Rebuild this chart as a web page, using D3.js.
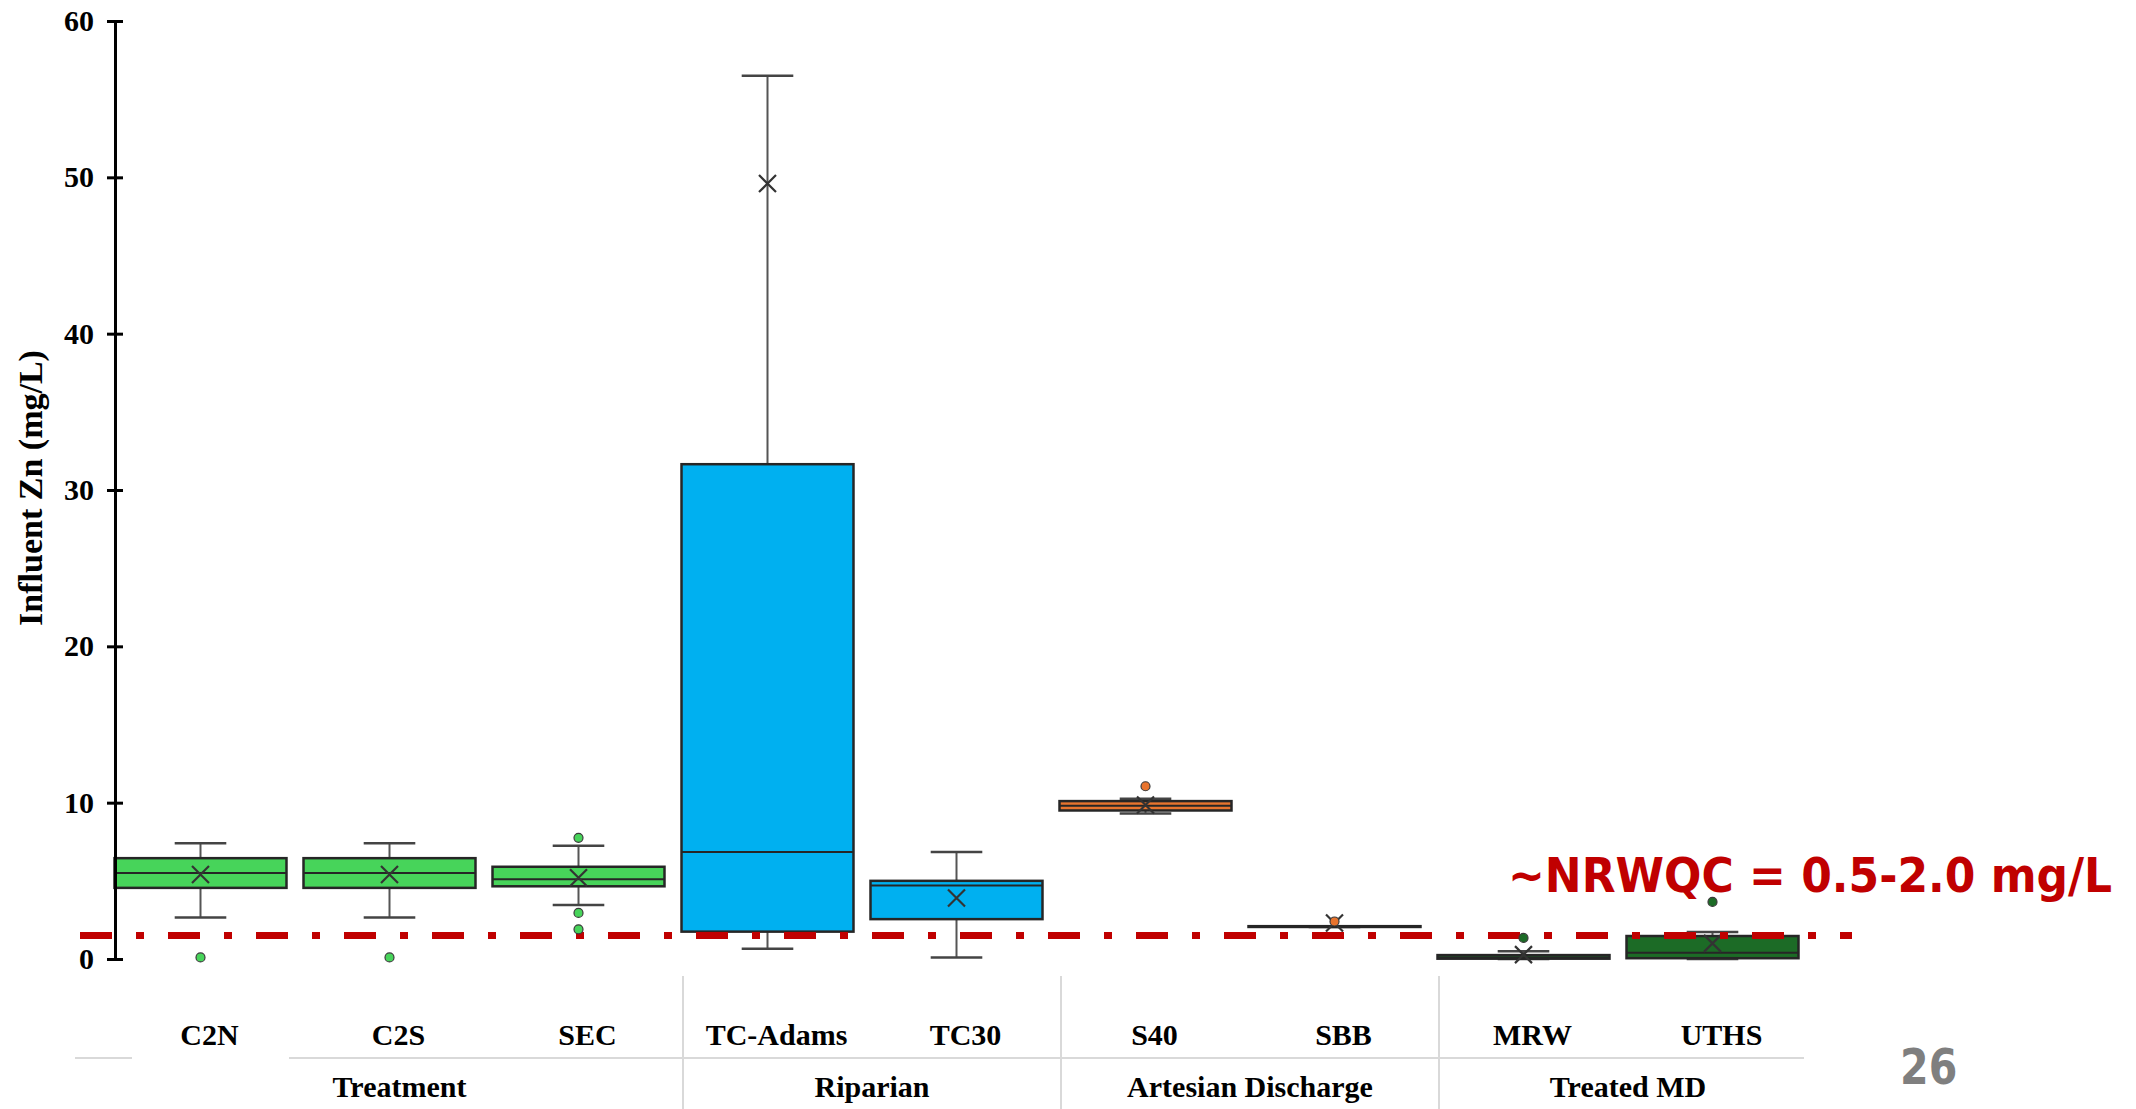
<!DOCTYPE html>
<html>
<head>
<meta charset="utf-8">
<script src="https://cdn.jsdelivr.net/npm/d3@7"></script>
<style>
  body { margin: 0; background: #fff; }
  svg text { font-family: 'Liberation Serif', 'Times New Roman', serif; font-weight: bold; }
</style>
</head>
<body>
<div id="chart"></div>
<script>
// sites and the group each belongs to
const categories = ['C2N', 'C2S', 'SEC', 'TC-Adams', 'TC30', 'S40', 'SBB', 'MRW', 'UTHS']
const groups = ['Treatment', 'Riparian', 'Artesian Discharge', 'Treated MD']
const groupFirst = [0, 3, 5, 7]
const groupLast = [2, 4, 6, 8]

// box stats, Zn mg/L
const whiskerLow = [2.65, 2.65, 3.45, 0.65, 0.1, 9.3, 2.05, 0.0, 0.0]
const q1 = [4.55, 4.55, 4.65, 1.75, 2.55, 9.5, 2.05, 0.02, 0.05]
const median = [5.5, 5.5, 5.1, 6.85, 4.7, 9.8, 2.07, 0.1, 0.4]
const q3 = [6.45, 6.45, 5.9, 31.65, 5.0, 10.1, 2.1, 0.25, 1.47]
const whiskerHigh = [7.4, 7.4, 7.25, 56.5, 6.85, 10.25, 2.1, 0.5, 1.72]
const mean = [5.4, 5.4, 5.2, 49.6, 3.9, 9.85, 2.3, 0.28, 1.0]

// outliers: site index + value
const outlierSite = [0, 1, 2, 2, 2, 5, 6, 7, 8]
const outlierValue = [0.1, 0.1, 7.75, 2.95, 1.9, 11.05, 2.4, 1.35, 3.65]

const yTicks = [0, 10, 20, 30, 40, 50, 60]
const nrwqc = 1.5
const nrwqcLabel = '~NRWQC = 0.5-2.0 mg/L'
const pageNumber = '26'

const boxColor = ['#47d45a', '#47d45a', '#47d45a', '#00b0f0', '#00b0f0', '#e8742e', '#e8742e', '#1c6b26', '#1c6b26']

const width = 2136
const height = 1109

const svg = d3
  .select('#chart')
  .append('svg')
  .attr('width', width)
  .attr('height', height)
  .style('background', '#fff')

const y = d3.scaleLinear().domain([0, 60]).range([959, 21])
const x = d3
  .scaleBand()
  .domain(categories)
  .range([106, 1807])
  .paddingInner(0.09)
  .paddingOuter(0.045)

const bw = x.bandwidth()
const cx = (c) => x(c) + bw / 2

// category separators under the axis
const grid = svg.append('g').attr('stroke', '#d9d9d9').attr('stroke-width', 2)
grid.append('line').attr('x1', x.range()[0] - 31).attr('x2', x.range()[0] + 26).attr('y1', 1058).attr('y2', 1058)
grid.append('line').attr('x1', x.range()[0] + 183).attr('x2', x.range()[1] - 3).attr('y1', 1058).attr('y2', 1058)
groupFirst.slice(1).forEach((i) => {
  const gx = x(categories[i]) - (x.step() - bw) / 2 + 10
  grid.append('line').attr('x1', gx).attr('x2', gx).attr('y1', 976).attr('y2', height)
})

// boxes
const boxes = svg
  .append('g')
  .selectAll('g')
  .data(categories)
  .join('g')

// whiskers
boxes
  .append('line')
  .attr('x1', (d) => cx(d))
  .attr('x2', (d) => cx(d))
  .attr('y1', (d, i) => y(whiskerLow[i]))
  .attr('y2', (d, i) => y(whiskerHigh[i]))
  .attr('stroke', '#555')
  .attr('stroke-width', 2)

;[whiskerLow, whiskerHigh].forEach((arr) => {
  boxes
    .append('line')
    .attr('x1', (d) => cx(d) - bw * 0.15)
    .attr('x2', (d) => cx(d) + bw * 0.15)
    .attr('y1', (d, i) => y(arr[i]))
    .attr('y2', (d, i) => y(arr[i]))
    .attr('stroke', '#444')
    .attr('stroke-width', 2.5)
})

boxes
  .append('rect')
  .attr('x', (d) => x(d))
  .attr('width', bw)
  .attr('y', (d, i) => y(q3[i]))
  .attr('height', (d, i) => Math.max(0.5, y(q1[i]) - y(q3[i])))
  .attr('fill', (d, i) => boxColor[i])
  .attr('stroke', '#262626')
  .attr('stroke-width', 2.5)

boxes
  .append('line')
  .attr('x1', (d) => x(d))
  .attr('x2', (d) => x(d) + bw)
  .attr('y1', (d, i) => y(median[i]))
  .attr('y2', (d, i) => y(median[i]))
  .attr('stroke', '#262626')
  .attr('stroke-width', 2)

// mean markers (x)
const m = 8.5
boxes
  .append('path')
  .attr('d', (d, i) => {
    const px = cx(d)
    const py = y(mean[i])
    return `M${px - m},${py - m}L${px + m},${py + m}M${px - m},${py + m}L${px + m},${py - m}`
  })
  .attr('stroke', '#333')
  .attr('stroke-width', 2.2)
  .attr('fill', 'none')

// NRWQC reference line
svg
  .append('line')
  .attr('x1', 80)
  .attr('x2', 1852)
  .attr('y1', y(nrwqc))
  .attr('y2', y(nrwqc))
  .attr('stroke', '#c00000')
  .attr('stroke-width', 7)
  .attr('stroke-dasharray', '32,24,8,24')

// outliers
svg
  .append('g')
  .selectAll('circle')
  .data(outlierValue)
  .join('circle')
  .attr('cx', (d, i) => cx(categories[outlierSite[i]]))
  .attr('cy', (d) => y(d))
  .attr('r', 4.5)
  .attr('fill', (d, i) => boxColor[outlierSite[i]])
  .attr('stroke', '#3a3a3a')
  .attr('stroke-width', 1.2)

// y axis
const yAxis = svg
  .append('g')
  .attr('transform', `translate(${x.range()[0] + 9},0)`)
  .call(d3.axisLeft(y).tickValues(yTicks).tickSizeInner(8).tickSizeOuter(0).tickPadding(13))
yAxis.select('.domain').attr('stroke', '#000').attr('stroke-width', 3)
yAxis.selectAll('.tick line').attr('x1', 8).attr('stroke', '#000').attr('stroke-width', 3)
yAxis
  .selectAll('.tick text')
  .attr('fill', '#000')
  .style('font-family', "'Liberation Serif', serif")
  .style('font-size', '30px')
  .style('font-weight', 'bold')

svg
  .append('text')
  .attr('transform', `translate(42,${488}) rotate(-90)`)
  .attr('text-anchor', 'middle')
  .style('font-size', '34px')
  .text('Influent Zn (mg/L)')

// category labels
svg
  .append('g')
  .selectAll('text')
  .data(categories)
  .join('text')
  .attr('x', (d) => cx(d) + 9)
  .attr('y', 1045)
  .attr('text-anchor', 'middle')
  .style('font-size', '30px')
  .text((d) => d)

// group labels
svg
  .append('g')
  .selectAll('text')
  .data(groups)
  .join('text')
  .attr('x', (d, i) => (cx(categories[groupFirst[i]]) + cx(categories[groupLast[i]])) / 2 + 10)
  .attr('y', 1097)
  .attr('text-anchor', 'middle')
  .style('font-size', '30px')
  .text((d) => d)

// annotation and page number
svg
  .append('text')
  .attr('transform', 'translate(1508,892) scale(1,1.08)')
  .attr('fill', '#c00000')
  .style('font-family', "'DejaVu Sans', sans-serif")
  .style('font-size', '44px')
  .text(nrwqcLabel)

svg
  .append('text')
  .attr('transform', 'translate(1900,1084) scale(0.84,1)')
  .attr('fill', '#7f7f7f')
  .style('font-family', "'DejaVu Sans', sans-serif")
  .style('font-size', '49px')
  .text(pageNumber)
</script>
</body>
</html>
